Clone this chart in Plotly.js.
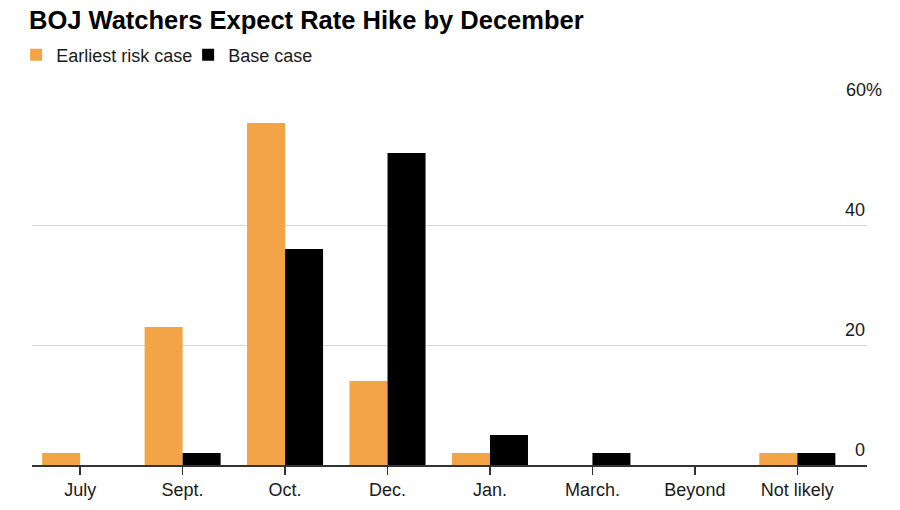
<!DOCTYPE html>
<html>
<head>
<meta charset="utf-8">
<script src="https://cdn.plot.ly/plotly-3.0.1.min.js"></script>
<style>html,body{margin:0;padding:0;background:#fff;}#chart{width:900px;height:510px;}</style>
</head>
<body>
<div id="chart"></div>
<script>
const categories = ['July', 'Sept.', 'Oct.', 'Dec.', 'Jan.', 'March.', 'Beyond', 'Not likely'];
const earliestRisk = [2, 23, 57, 14, 2, 0, 0, 2];
const baseCase = [0, 2, 36, 52, 5, 2, 0, 2];
const yTickVals = [0, 20, 40, 60];
const yTickText = ['0', '20', '40', '60%'];

const FONT = 'Liberation Sans, Arial, Helvetica, sans-serif';

const traces = [
  {type: 'bar', name: 'Earliest risk case', x: categories, y: earliestRisk,
   marker: {color: '#f2a446'}, hoverinfo: 'skip'},
  {type: 'bar', name: 'Base case', x: categories, y: baseCase,
   marker: {color: '#000000'}, hoverinfo: 'skip'}
];

const annotations = yTickVals.map((v, i) => ({
  xref: 'paper', yref: 'y', x: 1, y: v, xanchor: 'right', yanchor: 'middle',
  yshift: 15, xshift: yTickText[i].endsWith('%') ? 17 : 0,
  text: yTickText[i], showarrow: false,
  font: {family: FONT, size: 18, color: '#1a1a1a'}
}));

const layout = {
  width: 900, height: 510,
  margin: {l: 32, r: 33, t: 105, b: 45},
  paper_bgcolor: '#fff', plot_bgcolor: '#fff',
  font: {family: FONT, color: '#1a1a1a'},
  title: {text: '<b>BOJ Watchers Expect Rate Hike by December</b>',
    x: 29/900, xanchor: 'left', xref: 'container',
    y: 1 - 20/510, yanchor: 'middle', yref: 'container',
    font: {family: FONT, size: 25.5, color: '#000'}},
  barmode: 'group', bargap: 0.258, bargroupgap: 0,
  showlegend: true,
  legend: {orientation: 'h', x: -0.019, xanchor: 'left', y: 1.139, yanchor: 'middle',
    entrywidth: 127, entrywidthmode: 'pixels',
    font: {family: FONT, size: 18, color: '#1a1a1a'}, traceorder: 'normal'},
  xaxis: {type: 'category', range: [-0.47, 7.68], showgrid: false, zeroline: false,
    showline: true, linecolor: '#333', linewidth: 1.5,
    ticks: 'outside', ticklen: 8, tickcolor: '#333', tickwidth: 1.5,
    tickfont: {family: FONT, size: 18, color: '#1a1a1a'}, fixedrange: true},
  yaxis: {range: [0, 60], tickvals: yTickVals, showticklabels: false,
    showgrid: true, gridcolor: '#d6d6d6', gridwidth: 1, zeroline: false,
    showline: false, ticks: '', fixedrange: true},
  annotations: annotations
};

Plotly.newPlot('chart', traces, layout, {displayModeBar: false, staticPlot: true});
</script>
</body>
</html>
